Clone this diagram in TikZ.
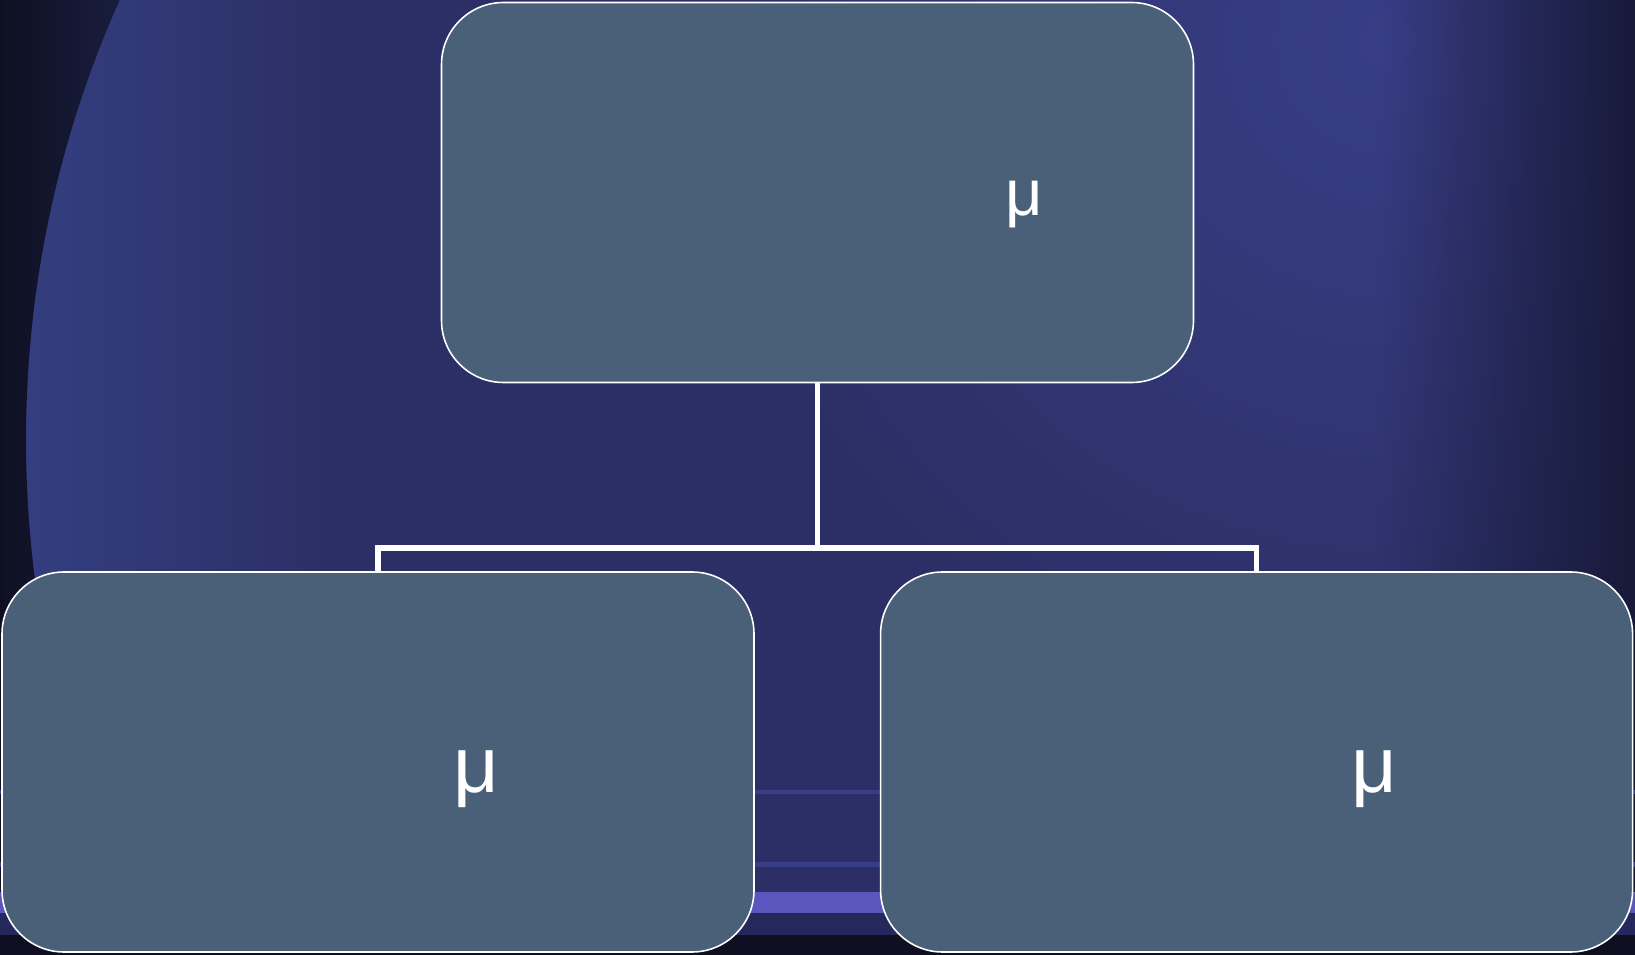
\documentclass[tikz,border=0pt]{standalone}
\usepackage{fontspec}
\setmainfont{Liberation Sans}
\usetikzlibrary{positioning, fadings}

\definecolor{navy}{RGB}{43,47,101}
\definecolor{navydark}{RGB}{14,16,34}
\definecolor{navymid}{RGB}{30,34,74}
\definecolor{navyedge}{RGB}{24,26,58}
\definecolor{navyband}{RGB}{36,40,92}
\definecolor{navylight}{RGB}{56,62,134}
\definecolor{navyrim}{RGB}{52,62,128}
\definecolor{lavender}{RGB}{90,86,190}
\definecolor{boxfill}{RGB}{74,96,120}

\begin{document}
\begin{tikzpicture}[
  x=0.1mm, y=-0.1mm,
  box/.style={draw=white, line width=0.45pt, fill=boxfill, rounded corners=6.2mm,
              minimum width=75.2mm, minimum height=38mm, inner sep=0pt},
  conn/.style={draw=white, line width=1.6pt},
  mu/.style={text=white, anchor=base, inner sep=0pt}]
  \useasboundingbox (0,0) rectangle (1635,955);

  % background
  \fill[navy] (0,0) rectangle (1635,955);
  \shade[inner color=navylight, outer color=navy] (1390,40) circle[radius=700];
  \fill[navyedge, path fading=west] (1380,0) rectangle (1635,955);
  \begin{scope}
    \clip (1103,440) circle[radius=1077];
    \shade[left color=navyrim, right color=navy] (20,0) rectangle (330,955);
  \end{scope}
  \begin{scope}[even odd rule]
    \clip (0,0) rectangle (1635,955) (1103,440) circle[radius=1077];
    \shade[left color=navydark, right color=navymid] (0,0) rectangle (170,955);
  \end{scope}
  \fill[navylight] (0,790) rectangle (1635,794);
  \fill[navylight] (0,862) rectangle (1635,867);
  \fill[lavender] (0,892) rectangle (1635,913);
  \fill[navyband] (0,913) rectangle (1635,935);
  \fill[navydark] (0,935) rectangle (1635,955);

  % boxes
  \node[box] (top) at (817.5,192.5) {};
  \node[box] (bl) at (378,762) {};
  \node[box, right=12.5mm of bl] (br) {};
  \coordinate (split) at (817.5,548);

  \draw[conn] (top.south) -- (split) -| (bl.north);
  \draw[conn] (split) -| (br.north);

  \node[mu, font=\fontsize{18.5}{20}\selectfont] (muTop) at (1024,216) {μ};
  \node[mu, font=\fontsize{22.5}{24}\selectfont] (muLeft) at (476,792) {μ};
  \node[mu, font=\fontsize{22.5}{24}\selectfont] (muRight) at (1374,792) {μ};
\end{tikzpicture}
\end{document}
